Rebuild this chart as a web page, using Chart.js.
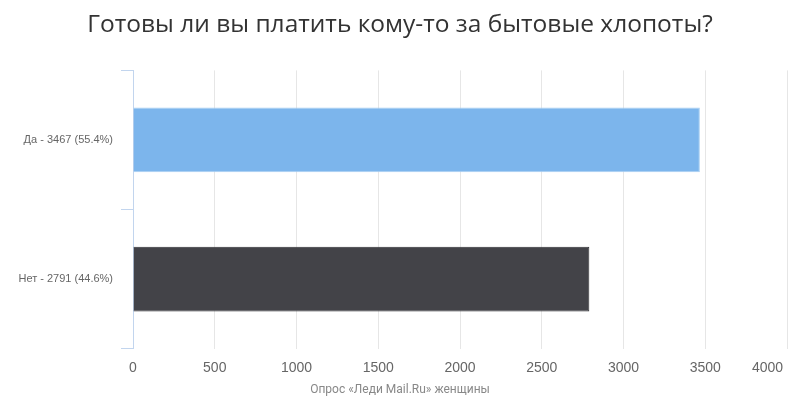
<!DOCTYPE html>
<html>
<head>
<meta charset="utf-8">
<script src="https://cdn.jsdelivr.net/npm/chart.js@4"></script>
<style>
  body { margin: 0; background: #fff; }
  #wrap { width: 800px; height: 400px; }
</style>
</head>
<body>
<div id="wrap"><canvas id="barChart"></canvas></div>
<script>
// Survey answers
const answers = ["Да", "Нет"];
const votes = [3467, 2791];
const shares = [55.4, 44.6];
const xTicks = [0, 500, 1000, 1500, 2000, 2500, 3000, 3500, 4000];

const labels = answers.map((a, i) => a + " - " + votes[i] + " (" + shares[i] + "%)");

const ctxBar = document.getElementById("barChart").getContext("2d");
new Chart(ctxBar, {
  type: "bar",
  data: {
    labels: labels,
    datasets: [
      {
        data: votes,
        backgroundColor: ["#7cb5ec", "#434348"],
        borderColor: ["#a9cff3", "#2e2e33"],
        borderWidth: 1,
        barPercentage: 0.465,
        categoryPercentage: 1,
      },
    ],
  },
  options: {
    indexAxis: "y",
    responsive: true,
    maintainAspectRatio: false,
    animation: false,
    plugins: {
      legend: { display: false },
      tooltip: { enabled: false },
      title: {
        display: true,
        text: "Готовы ли вы платить кому-то за бытовые хлопоты?",
        color: "#333",
        font: { family: "Open Sans", size: 24.5, weight: "normal" },
        padding: { top: 10, bottom: 31 },
      },
      subtitle: {
        display: true,
        position: "bottom",
        text: "Опрос «Леди Mail.Ru» женщины",
        color: "#888",
        font: { family: "Roboto", size: 12 },
        padding: { top: 4, bottom: 3 },
      },
    },
    scales: {
      x: {
        min: 0,
        max: 4000,
        afterBuildTicks: (scale) => {
          scale.ticks = xTicks.map((v) => ({ value: v }));
        },
        afterFit: (scale) => {
          scale.height = 30;
          scale.paddingRight = 13;
        },
        grid: {
          color: "#e6e6e6",
          drawTicks: false,
        },
        border: { display: false },
        ticks: {
          color: "#666",
          padding: 11,
          font: { family: "Liberation Sans", size: 14 },
          // last label is pulled left so it stays inside the canvas
          callback: (v, i) => (i === xTicks.length - 1 ? v + "          " : String(v)),
        },
      },
      y: {
        afterFit: (scale) => {
          scale.width = 133;
        },
        grid: {
          drawOnChartArea: false,
          tickLength: 12,
          color: "#c2d5ee",
        },
        border: { color: "#c2d5ee" },
        ticks: {
          color: "#666",
          padding: 8,
          font: { family: "Liberation Sans", size: 11 },
        },
      },
    },
  },
});
</script>
</body>
</html>
